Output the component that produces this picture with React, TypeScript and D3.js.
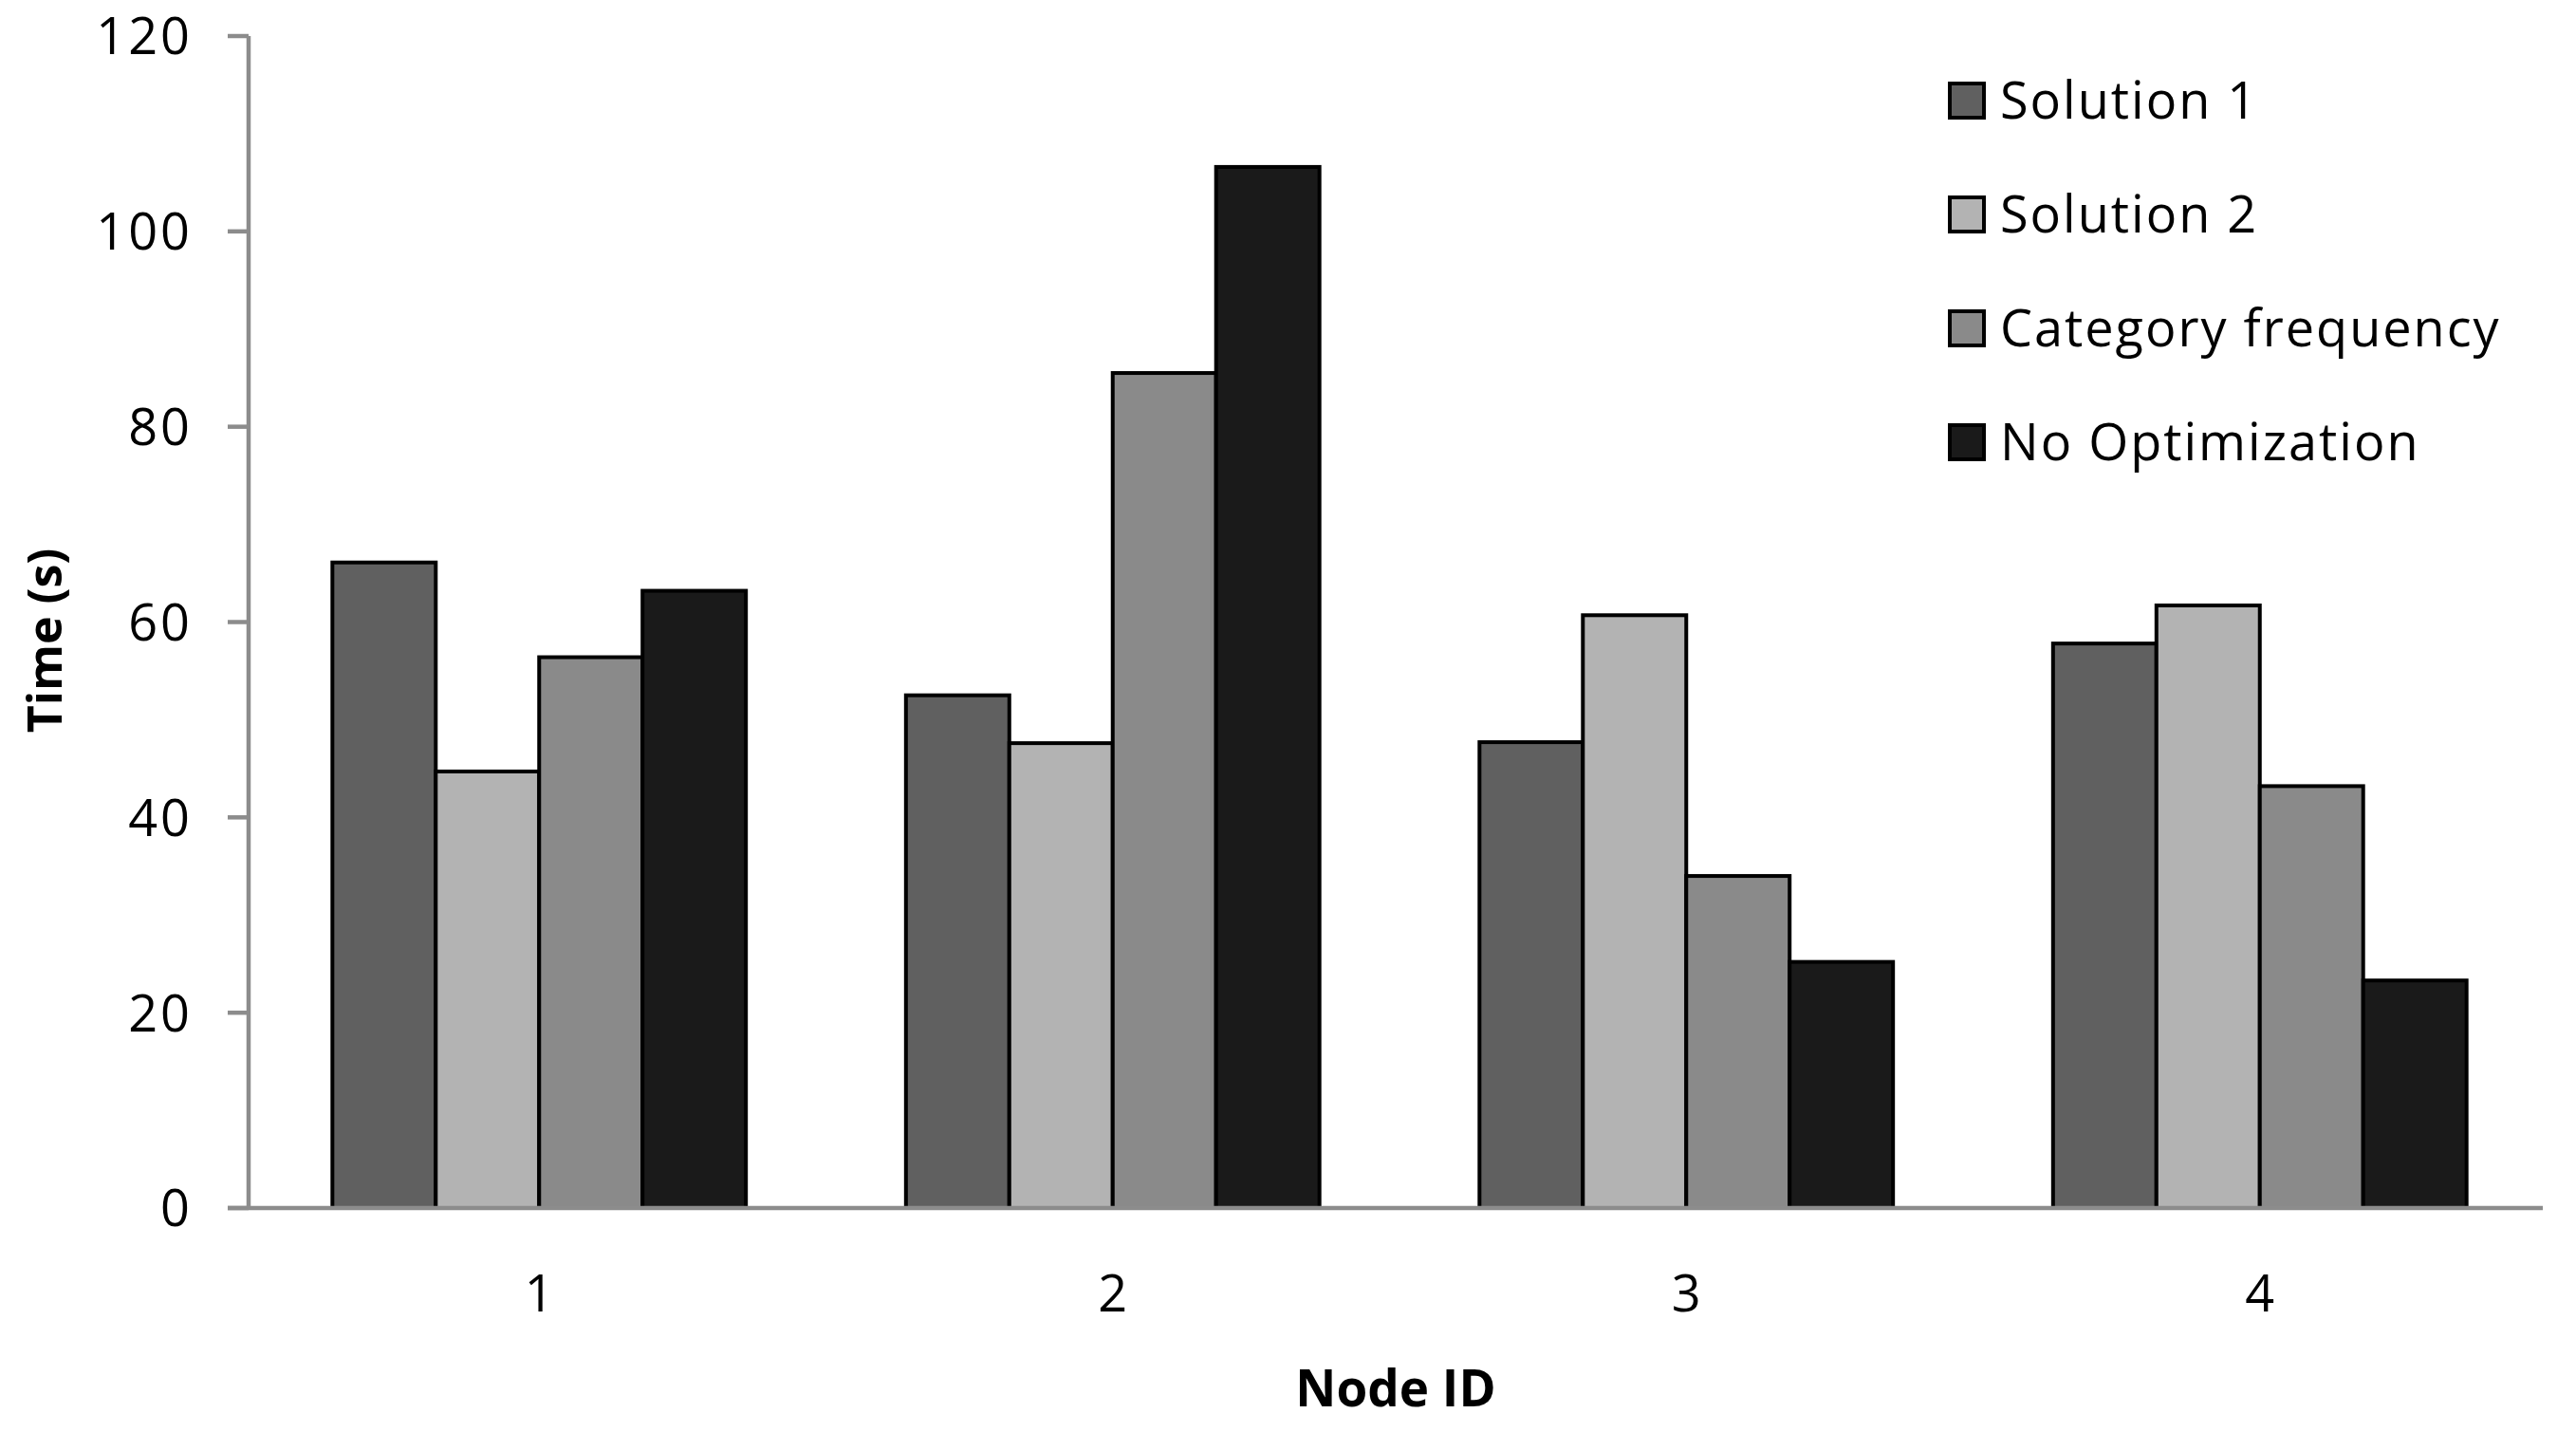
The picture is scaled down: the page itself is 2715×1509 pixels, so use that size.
import React from "react";
import * as d3 from "d3";

const categories = ["1", "2", "3", "4"];
const seriesNames = ["Solution 1", "Solution 2", "Category frequency", "No Optimization"];
const solution1 = [66.1, 52.5, 47.7, 57.8];
const solution2 = [44.7, 47.6, 60.7, 61.7];
const categoryFrequency = [56.4, 85.5, 34.0, 43.2];
const noOptimization = [63.2, 106.6, 25.2, 23.3];
const seriesColors = ["#606060", "#b3b3b3", "#8a8a8a", "#1a1a1a"];
const yTicks = [0, 20, 40, 60, 80, 100, 120];

const W = 2715;
const H = 1509;
const left = 262;
const right = 2680;
const top = 38;
const bottom = 1273;
const FONT = "'Open Sans', 'Noto Sans', sans-serif";

export default function App() {
  const series = [solution1, solution2, categoryFrequency, noOptimization];
  const x = d3.scaleBand<string>().domain(categories).range([left + 4, right + 4]).paddingInner(0.279).paddingOuter(0.1395);
  const xs = d3.scaleBand<number>().domain(d3.range(series.length)).range([0, x.bandwidth()]);
  const y = d3.scaleLinear().domain([0, 120]).range([bottom, top]);

  return (
    <svg width={W} height={H} style={{ position: "fixed", left: 0, top: 0, background: "#fff" }} fontFamily={FONT}>
      <rect x={0} y={0} width={W} height={H} fill="#fff" />
      {/* bars */}
      {categories.map((c, ci) => (
        <g key={c} transform={`translate(${x(c)},0)`}>
          {series.map((s, si) => (
            <rect
              key={si}
              x={xs(si)}
              y={y(s[ci])}
              width={xs.bandwidth()}
              height={y(0) - y(s[ci])}
              fill={seriesColors[si]}
              stroke="#000"
              strokeWidth={4}
            />
          ))}
        </g>
      ))}
      {/* y axis */}
      <line x1={left} x2={left} y1={top} y2={bottom} stroke="#8c8c8c" strokeWidth={4.5} />
      {yTicks.map((t) => (
        <g key={t}>
          <line x1={left - 22} x2={left} y1={y(t)} y2={y(t)} stroke="#8c8c8c" strokeWidth={4.5} />
          <text x={203} y={y(t)} dy="0.36em" textAnchor="end" fontSize={54} letterSpacing={3} fill="#000">
            {t}
          </text>
        </g>
      ))}
      {/* x axis */}
      <line x1={left - 22} x2={right} y1={bottom} y2={bottom} stroke="#8c8c8c" strokeWidth={4.5} />
      {categories.map((c) => (
        <text key={c} x={(x(c) as number) + x.bandwidth() / 2} y={1363} dy="0.36em" textAnchor="middle" fontSize={54} fill="#000">
          {c}
        </text>
      ))}
      {/* axis titles */}
      <text x={(left + right) / 2} y={1463} dy="0.36em" textAnchor="middle" fontSize={53} fontWeight="bold" fill="#000">
        Node ID
      </text>
      <text transform={`translate(47,675) rotate(-90)`} dy="0.36em" textAnchor="middle" fontSize={50} fontWeight="bold" fill="#000">
        Time (s)
      </text>
      {/* legend */}
      {seriesNames.map((n, i) => {
        const cy = 106 + i * 120;
        return (
          <g key={n}>
            <rect x={2055} y={cy - 18} width={36} height={36} fill={seriesColors[i]} stroke="#000" strokeWidth={4} />
            <text x={2108} y={cy} dy="0.36em" fontSize={54} letterSpacing={2} fill="#000">
              {n}
            </text>
          </g>
        );
      })}
    </svg>
  );
}
